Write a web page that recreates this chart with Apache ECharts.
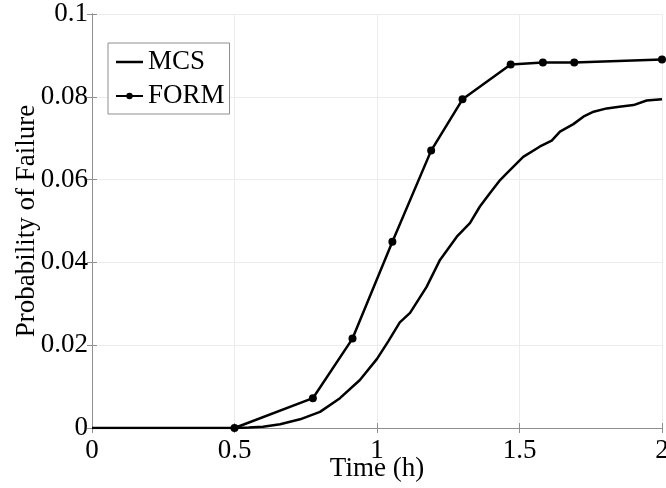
<!DOCTYPE html>
<html>
<head>
<meta charset="utf-8">
<script src="https://cdn.jsdelivr.net/npm/echarts@6/dist/echarts.min.js"></script>
<style>
  html, body { margin: 0; padding: 0; background: #fff; }
  #chart { width: 666px; height: 488px; }
</style>
</head>
<body>
<div id="chart"></div>
<script>
// Monte Carlo simulation estimate of failure probability over time
const mcsTime = [0, 0.5, 0.55, 0.6, 0.66, 0.73, 0.8, 0.87, 0.94, 1.0, 1.04, 1.08, 1.116, 1.174, 1.221, 1.28, 1.326, 1.361, 1.396, 1.432, 1.455, 1.513, 1.572, 1.613, 1.642, 1.689, 1.724, 1.76, 1.806, 1.85, 1.9, 1.946, 2.0];
const mcsPf   = [0, 0, 0.0001, 0.0003, 0.0009, 0.0021, 0.0039, 0.0072, 0.0116, 0.0167, 0.021, 0.0255, 0.0278, 0.0341, 0.0406, 0.0462, 0.0495, 0.0535, 0.0567, 0.0599, 0.0615, 0.0655, 0.068, 0.0694, 0.0716, 0.0734, 0.0752, 0.0764, 0.0772, 0.0776, 0.078, 0.0791, 0.0794];

// First-order reliability method estimate
const formTime = [0.5, 0.775, 0.914, 1.054, 1.19, 1.30, 1.469, 1.582, 1.692, 2.0];
const formPf   = [0, 0.0072, 0.0216, 0.045, 0.067, 0.0794, 0.0878, 0.0883, 0.0883, 0.089];

const xTickLabels = ['0', '0.5', '1', '1.5', '2'];
const yTickLabels = ['0', '0.02', '0.04', '0.06', '0.08', '0.1'];

const pairs = (xs, ys) => xs.map((x, i) => [x, ys[i]]);

const FONT = '"Liberation Serif", "Times New Roman", serif';
const FONT_SIZE = 27;
const AXIS_COLOR = '#8f8f8f';
const GRID_COLOR = '#ececec';

const chart = echarts.init(document.getElementById('chart'), null, { renderer: 'canvas' });

const baseX = {
  type: 'value', min: 0, max: 2, interval: 0.5,
  axisLine: { show: true, lineStyle: { color: AXIS_COLOR, width: 1 } },
  axisTick: { show: true, inside: true, length: 5, lineStyle: { color: AXIS_COLOR } },
  splitLine: { show: false }
};
const baseY = {
  type: 'value', min: 0, max: 0.1, interval: 0.02,
  axisLine: { show: true, lineStyle: { color: AXIS_COLOR, width: 1 } },
  axisTick: { show: true, inside: true, length: 5, lineStyle: { color: AXIS_COLOR } },
  splitLine: { show: false }
};

chart.setOption({
  animation: false,
  backgroundColor: '#ffffff',
  grid: { left: 92, right: 4, top: 14, bottom: 60, containLabel: false, outerBoundsMode: 'none' },
  legend: {
    orient: 'vertical',
    left: 108, top: 43,
    padding: [5, 5, 4, 7],
    itemGap: 6,
    itemWidth: 27, itemHeight: 8,
    symbolKeepAspect: true,
    backgroundColor: '#ffffff',
    borderColor: AXIS_COLOR, borderWidth: 1,
    textStyle: { fontFamily: FONT, fontSize: FONT_SIZE, color: '#000', lineHeight: 28 },
    data: [
      // plain line sample for the simulation curve
      { name: 'MCS', icon: 'path://M0,0H27V2.5H0Z', itemStyle: { color: '#000' } },
      { name: 'FORM' }
    ]
  },
  xAxis: [
    Object.assign({}, baseX, {
      position: 'bottom',
      splitLine: { show: true, lineStyle: { color: GRID_COLOR, width: 1 } },
      axisLabel: {
        fontFamily: FONT, fontSize: FONT_SIZE, color: '#000', margin: 9,
        formatter: (v) => xTickLabels[Math.round(v / 0.5)]
      },
      name: 'Time (h)', nameLocation: 'middle', nameGap: 27, nameMoveOverlap: false,
      nameTextStyle: { fontFamily: FONT, fontSize: FONT_SIZE, color: '#000' }
    }),
    Object.assign({}, baseX, { position: 'top', axisLabel: { show: false } })
  ],
  yAxis: [
    Object.assign({}, baseY, {
      position: 'left',
      splitLine: { show: true, lineStyle: { color: GRID_COLOR, width: 1 } },
      axisLabel: {
        fontFamily: FONT, fontSize: FONT_SIZE, color: '#000', margin: 4,
        formatter: (v) => yTickLabels[Math.round(v / 0.02)]
      },
      name: 'Probability of Failure', nameLocation: 'middle', nameGap: 52, nameMoveOverlap: false,
      nameTextStyle: { fontFamily: FONT, fontSize: FONT_SIZE, color: '#000' }
    }),
    Object.assign({}, baseY, { position: 'right', axisLabel: { show: false } })
  ],
  series: [
    {
      name: 'MCS', type: 'line',
      xAxisIndex: 0, yAxisIndex: 0,
      data: pairs(mcsTime, mcsPf),
      symbol: 'none', showSymbol: false,
      lineStyle: { color: '#000', width: 2.5 },
      itemStyle: { color: '#000' },
      z: 3
    },
    {
      name: 'FORM', type: 'line',
      xAxisIndex: 0, yAxisIndex: 0,
      data: pairs(formTime, formPf),
      symbol: 'circle', symbolSize: 8,
      lineStyle: { color: '#000', width: 2.5 },
      itemStyle: { color: '#000' },
      z: 4
    }
  ]
});
</script>
</body>
</html>
